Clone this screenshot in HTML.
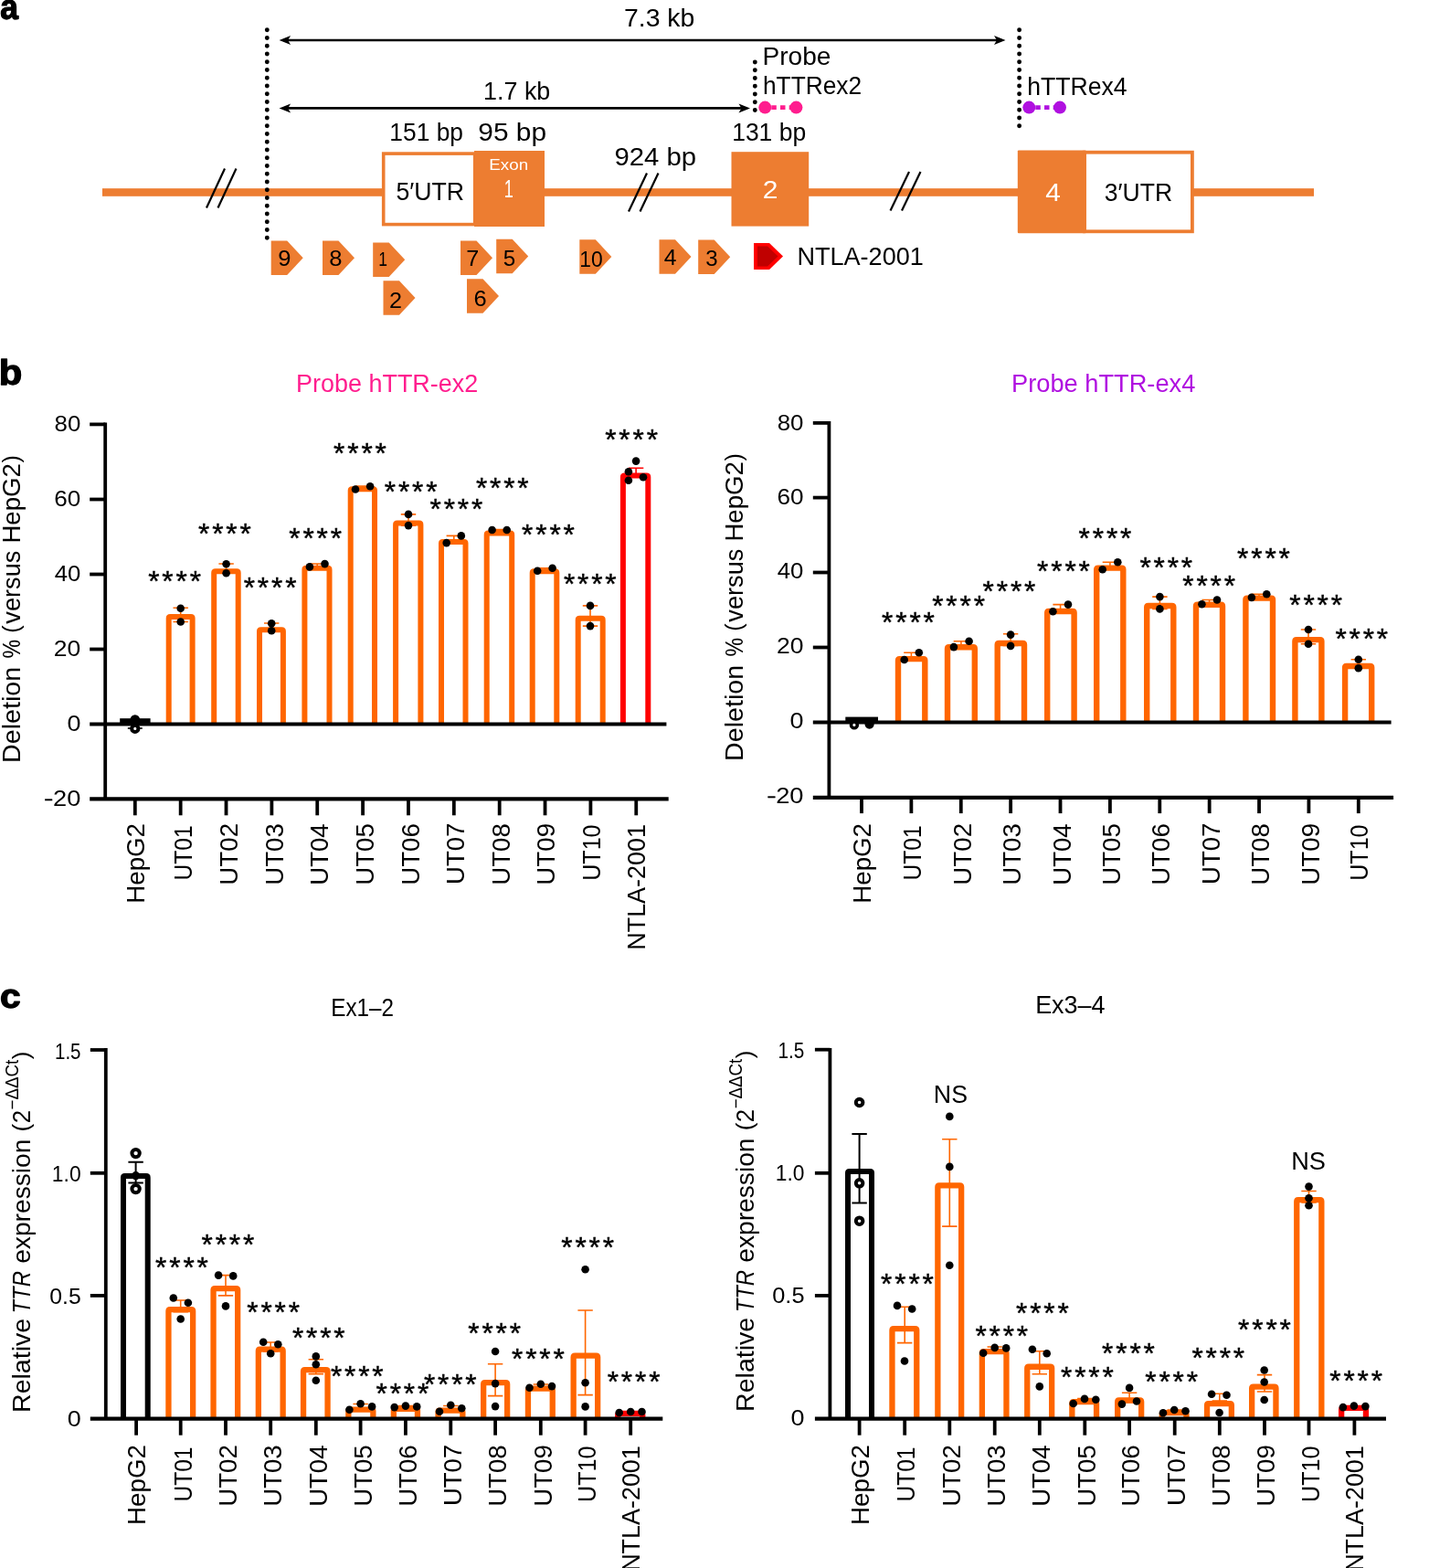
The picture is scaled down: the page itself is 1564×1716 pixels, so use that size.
<!DOCTYPE html>
<html lang="en">
<head>
<meta charset="utf-8">
<title>TTR deletion figure</title>
<style>
html,body{margin:0;padding:0;background:#fff;}
body{width:1564px;height:1716px;overflow:hidden;}
svg{display:block;}
text{white-space:pre;}
</style>
</head>
<body>
<svg width="1564" height="1716" viewBox="0 0 1564 1716" font-family='"Liberation Sans", sans-serif' role="img" aria-label="TTR gene deletion figure">
<rect width="1564" height="1716" fill="#fff"/>
<g id="panel-a">
<rect x="112" y="206.2" width="1326" height="8.6" fill="#ed7d31"/>
<rect x="419.7" y="168.1" width="100" height="77.5" fill="#fff" stroke="#ed7d31" stroke-width="3.6"/>
<rect x="519" y="165" width="77" height="83" fill="#ed7d31"/>
<rect x="800.5" y="166.2" width="84.7" height="81.4" fill="#ed7d31"/>
<rect x="1187" y="166.7" width="117.9" height="86.6" fill="#fff" stroke="#ed7d31" stroke-width="3.8"/>
<rect x="1113.8" y="164.4" width="75" height="90.8" rx="1.2" fill="#ed7d31"/>
<line x1="226" y1="227.5" x2="246" y2="184.5" stroke="#000" stroke-width="2.2"/>
<line x1="238.5" y1="227.5" x2="258.5" y2="184.5" stroke="#000" stroke-width="2.2"/>
<line x1="688" y1="231.5" x2="708" y2="189.5" stroke="#000" stroke-width="2.2"/>
<line x1="700.5" y1="231.5" x2="720.5" y2="189.5" stroke="#000" stroke-width="2.2"/>
<line x1="974.5" y1="230.5" x2="995" y2="188" stroke="#000" stroke-width="2.2"/>
<line x1="987" y1="230.5" x2="1007.5" y2="188" stroke="#000" stroke-width="2.2"/>
<line x1="292.3" y1="32.8" x2="292.3" y2="261.5" stroke="#000" stroke-width="4.9" stroke-linecap="round" stroke-dasharray="0 8.75"/>
<line x1="826.3" y1="68" x2="826.3" y2="121.5" stroke="#000" stroke-width="4.9" stroke-linecap="round" stroke-dasharray="0 8.75"/>
<line x1="1115.6" y1="32.8" x2="1115.6" y2="138.5" stroke="#000" stroke-width="4.9" stroke-linecap="round" stroke-dasharray="0 8.75"/>
<line x1="311.6" y1="44" x2="1094.5" y2="44" stroke="#000" stroke-width="2.6"/>
<path d="M305.6 44 l12.5 -5 l-3 5 l3 5 z" fill="#000"/>
<path d="M1100.5 44 l-12.5 -5 l3 5 l-3 5 z" fill="#000"/>
<line x1="311.6" y1="118.4" x2="815" y2="118.4" stroke="#000" stroke-width="2.6"/>
<path d="M305.6 118.4 l12.5 -5 l-3 5 l3 5 z" fill="#000"/>
<path d="M821 118.4 l-12.5 -5 l3 5 l-3 5 z" fill="#000"/>
<line x1="843.3" y1="117.6" x2="865.4" y2="117.6" stroke="#ff1d8e" stroke-width="4.6" stroke-dasharray="5.5 4.2" stroke-dashoffset="-1"/>
<circle cx="837.3" cy="117.6" r="7" fill="#ff1d8e"/>
<circle cx="871.4" cy="117.6" r="7" fill="#ff1d8e"/>
<line x1="1132.3" y1="117.6" x2="1154" y2="117.6" stroke="#b010e0" stroke-width="4.6" stroke-dasharray="5.5 4.2" stroke-dashoffset="-1"/>
<circle cx="1126.3" cy="117.6" r="7" fill="#b010e0"/>
<circle cx="1160" cy="117.6" r="7" fill="#b010e0"/>
<path d="M296.7 263.4 h17.5 l17.5 18.75 l-17.5 18.75 h-17.5 z" fill="#ed7d31"/>
<path d="M353 263.4 h17.5 l17.5 18.75 l-17.5 18.75 h-17.5 z" fill="#ed7d31"/>
<path d="M408.2 265.4 h17.5 l17.5 18.75 l-17.5 18.75 h-17.5 z" fill="#ed7d31"/>
<path d="M419.5 307.2 h17.5 l17.5 18.75 l-17.5 18.75 h-17.5 z" fill="#ed7d31"/>
<path d="M504 263.4 h17.5 l17.5 18.75 l-17.5 18.75 h-17.5 z" fill="#ed7d31"/>
<path d="M511 305.2 h17.5 l17.5 18.75 l-17.5 18.75 h-17.5 z" fill="#ed7d31"/>
<path d="M543.2 261.8 h17.5 l17.5 18.75 l-17.5 18.75 h-17.5 z" fill="#ed7d31"/>
<path d="M634.3 262.2 h17.5 l17.5 18.75 l-17.5 18.75 h-17.5 z" fill="#ed7d31"/>
<path d="M721.5 262.2 h17.5 l17.5 18.75 l-17.5 18.75 h-17.5 z" fill="#ed7d31"/>
<path d="M764.2 262.4 h17.5 l17.5 18.75 l-17.5 18.75 h-17.5 z" fill="#ed7d31"/>
<path d="M825 266 h17 l15 14.5 l-15 14.5 h-17 z" fill="#ff0000"/>
<path d="M829 269.5 h11 l11.5 11 l-11.5 11 h-11 z" fill="#c00000"/>
</g>
<g id="chart-b1">
<rect x="131.2" y="786.2" width="33.4" height="6" fill="#000"/>
<path d="M197.7 665.2 V680.5 M189.5 665.2 h16.4 M189.5 680.5 h16.4" fill="none" stroke="#ff6600" stroke-width="1.6"/>
<path d="M184.7 792.6 V676.6 Q184.7 675 186.3 675 H209 Q210.6 675 210.6 676.6 V792.6" fill="none" stroke="#ff6600" stroke-width="6" stroke-linejoin="round"/>
<path d="M247.6 617 V627.3 M239.4 617 h16.4 M239.4 627.3 h16.4" fill="none" stroke="#ff6600" stroke-width="1.6"/>
<path d="M234.2 792.6 V626.9 Q234.2 625.3 235.8 625.3 H259.1 Q260.7 625.3 260.7 626.9 V792.6" fill="none" stroke="#ff6600" stroke-width="6" stroke-linejoin="round"/>
<path d="M297.2 682 V690.5 M289 682 h16.4 M289 690.5 h16.4" fill="none" stroke="#ff6600" stroke-width="1.6"/>
<path d="M284 792.6 V690.8 Q284 689.2 285.6 689.2 H308.3 Q309.9 689.2 309.9 690.8 V792.6" fill="none" stroke="#ff6600" stroke-width="6" stroke-linejoin="round"/>
<path d="M347.2 617 V620.5 M339 617 h16.4 M339 620.5 h16.4" fill="none" stroke="#ff6600" stroke-width="1.6"/>
<path d="M333.4 792.6 V623.4 Q333.4 621.8 335 621.8 H358.9 Q360.5 621.8 360.5 623.4 V792.6" fill="none" stroke="#ff6600" stroke-width="6" stroke-linejoin="round"/>
<path d="M397 532 V535.5 M388.8 532 h16.4 M388.8 535.5 h16.4" fill="none" stroke="#ff6600" stroke-width="1.6"/>
<path d="M383.7 792.6 V536.8 Q383.7 535.2 385.3 535.2 H408.4 Q410 535.2 410 536.8 V792.6" fill="none" stroke="#ff6600" stroke-width="6" stroke-linejoin="round"/>
<path d="M447 562.9 V575.1 M438.8 562.9 h16.4 M438.8 575.1 h16.4" fill="none" stroke="#ff6600" stroke-width="1.6"/>
<path d="M433.1 792.6 V574.2 Q433.1 572.6 434.7 572.6 H458.8 Q460.4 572.6 460.4 574.2 V792.6" fill="none" stroke="#ff6600" stroke-width="6" stroke-linejoin="round"/>
<path d="M496.8 586.4 V594.1 M488.6 586.4 h16.4 M488.6 594.1 h16.4" fill="none" stroke="#ff6600" stroke-width="1.6"/>
<path d="M483 792.6 V594.6 Q483 593 484.6 593 H507.9 Q509.5 593 509.5 594.6 V792.6" fill="none" stroke="#ff6600" stroke-width="6" stroke-linejoin="round"/>
<path d="M546.6 579.5 V580.5 M538.4 579.5 h16.4 M538.4 580.5 h16.4" fill="none" stroke="#ff6600" stroke-width="1.6"/>
<path d="M532.7 792.6 V585.2 Q532.7 583.6 534.3 583.6 H558.6 Q560.2 583.6 560.2 585.2 V792.6" fill="none" stroke="#ff6600" stroke-width="6" stroke-linejoin="round"/>
<path d="M596.4 621.7 V624.8 M588.2 621.7 h16.4 M588.2 624.8 h16.4" fill="none" stroke="#ff6600" stroke-width="1.6"/>
<path d="M582.7 792.6 V626.9 Q582.7 625.3 584.3 625.3 H607.7 Q609.3 625.3 609.3 626.9 V792.6" fill="none" stroke="#ff6600" stroke-width="6" stroke-linejoin="round"/>
<path d="M646 662.9 V685.1 M637.8 662.9 h16.4 M637.8 685.1 h16.4" fill="none" stroke="#ff6600" stroke-width="1.6"/>
<path d="M632.7 792.6 V678.4 Q632.7 676.8 634.3 676.8 H658.1 Q659.7 676.8 659.7 678.4 V792.6" fill="none" stroke="#ff6600" stroke-width="6" stroke-linejoin="round"/>
<path d="M696.1 512.2 V522 M687.9 512.2 h16.4 M687.9 522 h16.4" fill="none" stroke="#ff0000" stroke-width="1.6"/>
<path d="M681.9 792.6 V522 Q681.9 520.4 683.5 520.4 H707.7 Q709.3 520.4 709.3 522 V792.6" fill="none" stroke="#ff0000" stroke-width="6" stroke-linejoin="round"/>
<path d="M115.2 462.6 V874.3" stroke="#000" stroke-width="3.8" fill="none"/>
<path d="M98.2 874.3 H731.7" stroke="#000" stroke-width="4.2" fill="none"/>
<path d="M98.2 792.6 H729.4" stroke="#000" stroke-width="4" fill="none"/>
<path d="M98.2 464.4 H115.2" stroke="#000" stroke-width="3.8" fill="none"/>
<path d="M98.2 546.5 H115.2" stroke="#000" stroke-width="3.8" fill="none"/>
<path d="M98.2 628.5 H115.2" stroke="#000" stroke-width="3.8" fill="none"/>
<path d="M98.2 710.5 H115.2" stroke="#000" stroke-width="3.8" fill="none"/>
<path d="M147.8 874.3 V892.3" stroke="#000" stroke-width="3.8" fill="none"/>
<path d="M197.66 874.3 V892.3" stroke="#000" stroke-width="3.8" fill="none"/>
<path d="M247.52 874.3 V892.3" stroke="#000" stroke-width="3.8" fill="none"/>
<path d="M297.38 874.3 V892.3" stroke="#000" stroke-width="3.8" fill="none"/>
<path d="M347.24 874.3 V892.3" stroke="#000" stroke-width="3.8" fill="none"/>
<path d="M397.1 874.3 V892.3" stroke="#000" stroke-width="3.8" fill="none"/>
<path d="M446.96 874.3 V892.3" stroke="#000" stroke-width="3.8" fill="none"/>
<path d="M496.82 874.3 V892.3" stroke="#000" stroke-width="3.8" fill="none"/>
<path d="M546.68 874.3 V892.3" stroke="#000" stroke-width="3.8" fill="none"/>
<path d="M596.54 874.3 V892.3" stroke="#000" stroke-width="3.8" fill="none"/>
<path d="M646.4 874.3 V892.3" stroke="#000" stroke-width="3.8" fill="none"/>
<path d="M696.26 874.3 V892.3" stroke="#000" stroke-width="3.8" fill="none"/>
<path d="M139.8 797 h16" stroke="#000" stroke-width="1.6" fill="none"/>
<circle cx="147.8" cy="787.6" r="5.3" fill="#000"/>
<circle cx="147.8" cy="797.4" r="3.6" fill="#fff" stroke="#000" stroke-width="4"/>
<circle cx="197.7" cy="665.7" r="4.3" fill="#000"/>
<circle cx="197.7" cy="680.5" r="4.3" fill="#000"/>
<circle cx="247.6" cy="617.3" r="4.3" fill="#000"/>
<circle cx="247.6" cy="627.3" r="4.3" fill="#000"/>
<circle cx="297.2" cy="682.3" r="4.3" fill="#000"/>
<circle cx="297.2" cy="690.2" r="4.3" fill="#000"/>
<circle cx="338.9" cy="620.4" r="4.3" fill="#000"/>
<circle cx="355.5" cy="617.1" r="4.3" fill="#000"/>
<circle cx="389" cy="535.5" r="4.3" fill="#000"/>
<circle cx="405.1" cy="532.2" r="4.3" fill="#000"/>
<circle cx="447" cy="562.9" r="4.3" fill="#000"/>
<circle cx="447" cy="575.1" r="4.3" fill="#000"/>
<circle cx="488.7" cy="594.1" r="4.3" fill="#000"/>
<circle cx="504.8" cy="586.4" r="4.3" fill="#000"/>
<circle cx="538.6" cy="580" r="4.3" fill="#000"/>
<circle cx="554.7" cy="580" r="4.3" fill="#000"/>
<circle cx="588.2" cy="624.8" r="4.3" fill="#000"/>
<circle cx="604.6" cy="621.7" r="4.3" fill="#000"/>
<circle cx="646" cy="662.9" r="4.3" fill="#000"/>
<circle cx="646" cy="685.1" r="4.3" fill="#000"/>
<circle cx="696.1" cy="504.6" r="4.3" fill="#000"/>
<circle cx="687.9" cy="516.3" r="4.3" fill="#000"/>
<circle cx="687.9" cy="525.8" r="4.3" fill="#000"/>
<circle cx="704" cy="522.2" r="4.3" fill="#000"/>
</g>
<g id="chart-b2">
<rect x="925.3" y="784.6" width="35.7" height="6" fill="#000"/>
<path d="M997.4 714.3 V719 M989.2 714.3 h16.4 M989.2 719 h16.4" fill="none" stroke="#ff6600" stroke-width="1.6"/>
<path d="M983 790.4 V722.7 Q983 721.1 984.6 721.1 H1010.7 Q1012.3 721.1 1012.3 722.7 V790.4" fill="none" stroke="#ff6600" stroke-width="6.4" stroke-linejoin="round"/>
<path d="M1051.9 701.7 V707 M1043.7 701.7 h16.4 M1043.7 707 h16.4" fill="none" stroke="#ff6600" stroke-width="1.6"/>
<path d="M1037 790.4 V709.9 Q1037 708.3 1038.6 708.3 H1065.2 Q1066.8 708.3 1066.8 709.9 V790.4" fill="none" stroke="#ff6600" stroke-width="6.4" stroke-linejoin="round"/>
<path d="M1106.1 693.8 V706.5 M1097.9 693.8 h16.4 M1097.9 706.5 h16.4" fill="none" stroke="#ff6600" stroke-width="1.6"/>
<path d="M1091.7 790.4 V705.6 Q1091.7 704 1093.3 704 H1119.4 Q1121 704 1121 705.6 V790.4" fill="none" stroke="#ff6600" stroke-width="6.4" stroke-linejoin="round"/>
<path d="M1160.6 661.6 V668 M1152.4 661.6 h16.4 M1152.4 668 h16.4" fill="none" stroke="#ff6600" stroke-width="1.6"/>
<path d="M1146.2 790.4 V670.6 Q1146.2 669 1147.8 669 H1174 Q1175.6 669 1175.6 670.6 V790.4" fill="none" stroke="#ff6600" stroke-width="6.4" stroke-linejoin="round"/>
<path d="M1214.9 615.3 V621 M1206.7 615.3 h16.4 M1206.7 621 h16.4" fill="none" stroke="#ff6600" stroke-width="1.6"/>
<path d="M1200.2 790.4 V623.2 Q1200.2 621.6 1201.8 621.6 H1227.7 Q1229.3 621.6 1229.3 623.2 V790.4" fill="none" stroke="#ff6600" stroke-width="6.4" stroke-linejoin="round"/>
<path d="M1269.4 653.1 V666.4 M1261.2 653.1 h16.4 M1261.2 666.4 h16.4" fill="none" stroke="#ff6600" stroke-width="1.6"/>
<path d="M1255.2 790.4 V664.6 Q1255.2 663 1256.8 663 H1282.7 Q1284.3 663 1284.3 664.6 V790.4" fill="none" stroke="#ff6600" stroke-width="6.4" stroke-linejoin="round"/>
<path d="M1323.6 656.5 V661 M1315.4 656.5 h16.4 M1315.4 661 h16.4" fill="none" stroke="#ff6600" stroke-width="1.6"/>
<path d="M1309 790.4 V663.4 Q1309 661.8 1310.6 661.8 H1336.4 Q1338 661.8 1338 663.4 V790.4" fill="none" stroke="#ff6600" stroke-width="6.4" stroke-linejoin="round"/>
<path d="M1378 650.3 V653.5 M1369.8 650.3 h16.4 M1369.8 653.5 h16.4" fill="none" stroke="#ff6600" stroke-width="1.6"/>
<path d="M1363.4 790.4 V656.2 Q1363.4 654.6 1365 654.6 H1391.4 Q1393 654.6 1393 656.2 V790.4" fill="none" stroke="#ff6600" stroke-width="6.4" stroke-linejoin="round"/>
<path d="M1432 689 V704.8 M1423.8 689 h16.4 M1423.8 704.8 h16.4" fill="none" stroke="#ff6600" stroke-width="1.6"/>
<path d="M1417.4 790.4 V701.7 Q1417.4 700.1 1419 700.1 H1444.8 Q1446.4 700.1 1446.4 701.7 V790.4" fill="none" stroke="#ff6600" stroke-width="6.4" stroke-linejoin="round"/>
<path d="M1486.8 721.7 V731.2 M1478.6 721.7 h16.4 M1478.6 731.2 h16.4" fill="none" stroke="#ff6600" stroke-width="1.6"/>
<path d="M1472.1 790.4 V730.6 Q1472.1 729 1473.7 729 H1499.6 Q1501.2 729 1501.2 730.6 V790.4" fill="none" stroke="#ff6600" stroke-width="6.4" stroke-linejoin="round"/>
<path d="M907.4 461 V872.9" stroke="#000" stroke-width="3.8" fill="none"/>
<path d="M889.8 872.9 H1525.1" stroke="#000" stroke-width="4.2" fill="none"/>
<path d="M889.8 790.4 H1522.6" stroke="#000" stroke-width="4" fill="none"/>
<path d="M889.8 462.9 H907.4" stroke="#000" stroke-width="3.8" fill="none"/>
<path d="M889.8 544.6 H907.4" stroke="#000" stroke-width="3.8" fill="none"/>
<path d="M889.8 626.5 H907.4" stroke="#000" stroke-width="3.8" fill="none"/>
<path d="M889.8 708.5 H907.4" stroke="#000" stroke-width="3.8" fill="none"/>
<path d="M943 872.9 V890.1" stroke="#000" stroke-width="3.8" fill="none"/>
<path d="M997.38 872.9 V890.1" stroke="#000" stroke-width="3.8" fill="none"/>
<path d="M1051.76 872.9 V890.1" stroke="#000" stroke-width="3.8" fill="none"/>
<path d="M1106.14 872.9 V890.1" stroke="#000" stroke-width="3.8" fill="none"/>
<path d="M1160.52 872.9 V890.1" stroke="#000" stroke-width="3.8" fill="none"/>
<path d="M1214.9 872.9 V890.1" stroke="#000" stroke-width="3.8" fill="none"/>
<path d="M1269.28 872.9 V890.1" stroke="#000" stroke-width="3.8" fill="none"/>
<path d="M1323.66 872.9 V890.1" stroke="#000" stroke-width="3.8" fill="none"/>
<path d="M1378.04 872.9 V890.1" stroke="#000" stroke-width="3.8" fill="none"/>
<path d="M1432.42 872.9 V890.1" stroke="#000" stroke-width="3.8" fill="none"/>
<path d="M1486.8 872.9 V890.1" stroke="#000" stroke-width="3.8" fill="none"/>
<circle cx="934.9" cy="793.4" r="3.4" fill="#fff" stroke="#000" stroke-width="3.6"/>
<circle cx="951.6" cy="792.6" r="5.1" fill="#000"/>
<circle cx="989.7" cy="722" r="4.3" fill="#000"/>
<circle cx="1005.8" cy="714.3" r="4.3" fill="#000"/>
<circle cx="1043.9" cy="708.1" r="4.3" fill="#000"/>
<circle cx="1060.6" cy="701.7" r="4.3" fill="#000"/>
<circle cx="1106.1" cy="694.6" r="4.3" fill="#000"/>
<circle cx="1106.1" cy="706.9" r="4.3" fill="#000"/>
<circle cx="1152.4" cy="669.3" r="4.3" fill="#000"/>
<circle cx="1169" cy="661.6" r="4.3" fill="#000"/>
<circle cx="1206.7" cy="623.2" r="4.3" fill="#000"/>
<circle cx="1223.3" cy="615.3" r="4.3" fill="#000"/>
<circle cx="1269.4" cy="653.1" r="4.3" fill="#000"/>
<circle cx="1269.4" cy="666.4" r="4.3" fill="#000"/>
<circle cx="1315.4" cy="661.3" r="4.3" fill="#000"/>
<circle cx="1332" cy="656.5" r="4.3" fill="#000"/>
<circle cx="1369.9" cy="653.9" r="4.3" fill="#000"/>
<circle cx="1386.3" cy="650.3" r="4.3" fill="#000"/>
<circle cx="1432" cy="689" r="4.3" fill="#000"/>
<circle cx="1432" cy="704.8" r="4.3" fill="#000"/>
<circle cx="1486.8" cy="721.7" r="4.3" fill="#000"/>
<circle cx="1486.8" cy="731.2" r="4.3" fill="#000"/>
</g>
<g id="chart-c1">
<path d="M148.6 1271.7 V1294.6 M140.4 1271.7 h16.4 M140.4 1294.6 h16.4" fill="none" stroke="#000" stroke-width="2"/>
<path d="M135 1552.7 V1288.7 Q135 1287.1 136.6 1287.1 H160.1 Q161.7 1287.1 161.7 1288.7 V1552.7" fill="none" stroke="#000" stroke-width="6" stroke-linejoin="round"/>
<path d="M197.7 1423 V1435.8 M189.5 1423 h16.4 M189.5 1435.8 h16.4" fill="none" stroke="#ff6600" stroke-width="1.6"/>
<path d="M184.45 1552.7 V1434.75 Q184.45 1433.15 186.05 1433.15 H209.55 Q211.15 1433.15 211.15 1434.75 V1552.7" fill="none" stroke="#ff6600" stroke-width="6.3" stroke-linejoin="round"/>
<path d="M247 1395.6 V1417.9 M238.8 1395.6 h16.4 M238.8 1417.9 h16.4" fill="none" stroke="#ff6600" stroke-width="1.6"/>
<path d="M233.55 1552.7 V1411.75 Q233.55 1410.15 235.15 1410.15 H258.55 Q260.15 1410.15 260.15 1411.75 V1552.7" fill="none" stroke="#ff6600" stroke-width="6.3" stroke-linejoin="round"/>
<path d="M296.2 1469 V1479 M288 1469 h16.4 M288 1479 h16.4" fill="none" stroke="#ff6600" stroke-width="1.6"/>
<path d="M282.85 1552.7 V1478.15 Q282.85 1476.55 284.45 1476.55 H308.05 Q309.65 1476.55 309.65 1478.15 V1552.7" fill="none" stroke="#ff6600" stroke-width="6.3" stroke-linejoin="round"/>
<path d="M345.8 1487.7 V1503.6 M337.6 1487.7 h16.4 M337.6 1503.6 h16.4" fill="none" stroke="#ff6600" stroke-width="1.6"/>
<path d="M332.05 1552.7 V1500.75 Q332.05 1499.15 333.65 1499.15 H356.95 Q358.55 1499.15 358.55 1500.75 V1552.7" fill="none" stroke="#ff6600" stroke-width="6.3" stroke-linejoin="round"/>
<path d="M394.6 1536.5 V1542 M386.4 1536.5 h16.4 M386.4 1542 h16.4" fill="none" stroke="#ff6600" stroke-width="1.6"/>
<path d="M381.35 1552.7 V1544.15 Q381.35 1542.55 382.95 1542.55 H406.75 Q408.35 1542.55 408.35 1544.15 V1552.7" fill="none" stroke="#ff6600" stroke-width="6.3" stroke-linejoin="round"/>
<path d="M443.9 1538.5 V1540.5 M435.7 1538.5 h16.4 M435.7 1540.5 h16.4" fill="none" stroke="#ff6600" stroke-width="1.6"/>
<path d="M430.85 1552.7 V1543.45 Q430.85 1541.85 432.45 1541.85 H455.35 Q456.95 1541.85 456.95 1543.45 V1552.7" fill="none" stroke="#ff6600" stroke-width="6.3" stroke-linejoin="round"/>
<path d="M493.3 1538.5 V1544 M485.1 1538.5 h16.4 M485.1 1544 h16.4" fill="none" stroke="#ff6600" stroke-width="1.6"/>
<path d="M479.55 1552.7 V1545.25 Q479.55 1543.65 481.15 1543.65 H504.75 Q506.35 1543.65 506.35 1545.25 V1552.7" fill="none" stroke="#ff6600" stroke-width="6.3" stroke-linejoin="round"/>
<path d="M542.1 1492.8 V1527.6 M533.9 1492.8 h16.4 M533.9 1527.6 h16.4" fill="none" stroke="#ff6600" stroke-width="1.6"/>
<path d="M529.15 1552.7 V1514.75 Q529.15 1513.15 530.75 1513.15 H553.55 Q555.15 1513.15 555.15 1514.75 V1552.7" fill="none" stroke="#ff6600" stroke-width="6.3" stroke-linejoin="round"/>
<path d="M591.8 1515 V1518.5 M583.6 1515 h16.4 M583.6 1518.5 h16.4" fill="none" stroke="#ff6600" stroke-width="1.6"/>
<path d="M577.95 1552.7 V1521.15 Q577.95 1519.55 579.55 1519.55 H603.15 Q604.75 1519.55 604.75 1521.15 V1552.7" fill="none" stroke="#ff6600" stroke-width="6.3" stroke-linejoin="round"/>
<path d="M640.6 1434 V1526.6 M632.4 1434 h16.4 M632.4 1526.6 h16.4" fill="none" stroke="#ff6600" stroke-width="1.6"/>
<path d="M627.65 1552.7 V1485.15 Q627.65 1483.55 629.25 1483.55 H652.55 Q654.15 1483.55 654.15 1485.15 V1552.7" fill="none" stroke="#ff6600" stroke-width="6.3" stroke-linejoin="round"/>
<path d="M690.2 1545 V1546 M682 1545 h16.4 M682 1546 h16.4" fill="none" stroke="#ff0000" stroke-width="1.6"/>
<path d="M676.25 1552.7 V1548.55 Q676.25 1546.95 677.85 1546.95 H701.65 Q703.25 1546.95 703.25 1548.55 V1552.7" fill="none" stroke="#ff0000" stroke-width="6.3" stroke-linejoin="round"/>
<path d="M115.8 1147 V1552.7" stroke="#000" stroke-width="3.8" fill="none"/>
<path d="M98.8 1552.7 H725.3" stroke="#000" stroke-width="4.2" fill="none"/>
<path d="M98.8 1149 H115.8" stroke="#000" stroke-width="3.8" fill="none"/>
<path d="M98.8 1283.8 H115.8" stroke="#000" stroke-width="3.8" fill="none"/>
<path d="M98.8 1417.9 H115.8" stroke="#000" stroke-width="3.8" fill="none"/>
<path d="M149.1 1552.7 V1570.7" stroke="#000" stroke-width="3.8" fill="none"/>
<path d="M197.7 1552.7 V1570.7" stroke="#000" stroke-width="3.8" fill="none"/>
<path d="M247 1552.7 V1570.7" stroke="#000" stroke-width="3.8" fill="none"/>
<path d="M296.2 1552.7 V1570.7" stroke="#000" stroke-width="3.8" fill="none"/>
<path d="M345.8 1552.7 V1570.7" stroke="#000" stroke-width="3.8" fill="none"/>
<path d="M394.6 1552.7 V1570.7" stroke="#000" stroke-width="3.8" fill="none"/>
<path d="M443.9 1552.7 V1570.7" stroke="#000" stroke-width="3.8" fill="none"/>
<path d="M493.3 1552.7 V1570.7" stroke="#000" stroke-width="3.8" fill="none"/>
<path d="M542.1 1552.7 V1570.7" stroke="#000" stroke-width="3.8" fill="none"/>
<path d="M591.8 1552.7 V1570.7" stroke="#000" stroke-width="3.8" fill="none"/>
<path d="M640.6 1552.7 V1570.7" stroke="#000" stroke-width="3.8" fill="none"/>
<path d="M690.2 1552.7 V1570.7" stroke="#000" stroke-width="3.8" fill="none"/>
<circle cx="148.6" cy="1262.1" r="4.2" fill="#fff" stroke="#000" stroke-width="4"/>
<circle cx="148.6" cy="1301.1" r="4.2" fill="#fff" stroke="#000" stroke-width="4"/>
<circle cx="148.6" cy="1286.7" r="4.6" fill="#000"/>
<circle cx="189.8" cy="1420.5" r="4.3" fill="#000"/>
<circle cx="205.9" cy="1425.8" r="4.3" fill="#000"/>
<circle cx="197.7" cy="1443.5" r="4.3" fill="#000"/>
<circle cx="239.1" cy="1395.6" r="4.3" fill="#000"/>
<circle cx="255.2" cy="1396.4" r="4.3" fill="#000"/>
<circle cx="247" cy="1429.4" r="4.3" fill="#000"/>
<circle cx="288.2" cy="1468.8" r="4.3" fill="#000"/>
<circle cx="304.3" cy="1471.3" r="4.3" fill="#000"/>
<circle cx="296.2" cy="1481.3" r="4.3" fill="#000"/>
<circle cx="345.8" cy="1484.4" r="4.3" fill="#000"/>
<circle cx="345.8" cy="1493.3" r="4.3" fill="#000"/>
<circle cx="345.8" cy="1510.7" r="4.3" fill="#000"/>
<circle cx="382.4" cy="1542.7" r="4.3" fill="#000"/>
<circle cx="394.6" cy="1536.3" r="4.3" fill="#000"/>
<circle cx="407.1" cy="1539.4" r="4.3" fill="#000"/>
<circle cx="431.7" cy="1540.1" r="4.3" fill="#000"/>
<circle cx="443.9" cy="1538.6" r="4.3" fill="#000"/>
<circle cx="456.2" cy="1539.4" r="4.3" fill="#000"/>
<circle cx="481" cy="1544.7" r="4.3" fill="#000"/>
<circle cx="493.3" cy="1537.8" r="4.3" fill="#000"/>
<circle cx="505.3" cy="1541.2" r="4.3" fill="#000"/>
<circle cx="542.1" cy="1479" r="4.3" fill="#000"/>
<circle cx="542.1" cy="1514.1" r="4.3" fill="#000"/>
<circle cx="542.1" cy="1539.1" r="4.3" fill="#000"/>
<circle cx="579.5" cy="1518.7" r="4.3" fill="#000"/>
<circle cx="591.8" cy="1514.8" r="4.3" fill="#000"/>
<circle cx="604" cy="1517.1" r="4.3" fill="#000"/>
<circle cx="640.6" cy="1389.2" r="4.3" fill="#000"/>
<circle cx="640.6" cy="1513.3" r="4.3" fill="#000"/>
<circle cx="640.6" cy="1539.4" r="4.3" fill="#000"/>
<circle cx="677.7" cy="1546" r="4.3" fill="#000"/>
<circle cx="690.2" cy="1545" r="4.3" fill="#000"/>
<circle cx="702.5" cy="1545" r="4.3" fill="#000"/>
</g>
<g id="chart-c2">
<path d="M940.6 1241.1 V1316.5 M932.4 1241.1 h16.4 M932.4 1316.5 h16.4" fill="none" stroke="#000" stroke-width="2"/>
<path d="M928 1552.7 V1283.6 Q928 1282 929.6 1282 H952.4 Q954 1282 954 1283.6 V1552.7" fill="none" stroke="#000" stroke-width="6" stroke-linejoin="round"/>
<path d="M990.2 1430.2 V1469.6 M982 1430.2 h16.4 M982 1469.6 h16.4" fill="none" stroke="#ff6600" stroke-width="1.6"/>
<path d="M976.45 1552.7 V1455.65 Q976.45 1454.05 978.05 1454.05 H1001.65 Q1003.25 1454.05 1003.25 1455.65 V1552.7" fill="none" stroke="#ff6600" stroke-width="6.3" stroke-linejoin="round"/>
<path d="M1039.3 1246.7 V1342.1 M1031.1 1246.7 h16.4 M1031.1 1342.1 h16.4" fill="none" stroke="#ff6600" stroke-width="1.6"/>
<path d="M1026.35 1552.7 V1299.05 Q1026.35 1297.45 1027.95 1297.45 H1050.55 Q1052.15 1297.45 1052.15 1299.05 V1552.7" fill="none" stroke="#ff6600" stroke-width="6.3" stroke-linejoin="round"/>
<path d="M1088.7 1474 V1479 M1080.5 1474 h16.4 M1080.5 1479 h16.4" fill="none" stroke="#ff6600" stroke-width="1.6"/>
<path d="M1074.85 1552.7 V1480.75 Q1074.85 1479.15 1076.45 1479.15 H1099.85 Q1101.45 1479.15 1101.45 1480.75 V1552.7" fill="none" stroke="#ff6600" stroke-width="6.3" stroke-linejoin="round"/>
<path d="M1137.8 1478.8 V1503.8 M1129.6 1478.8 h16.4 M1129.6 1503.8 h16.4" fill="none" stroke="#ff6600" stroke-width="1.6"/>
<path d="M1124.25 1552.7 V1497.35 Q1124.25 1495.75 1125.85 1495.75 H1149.55 Q1151.15 1495.75 1151.15 1497.35 V1552.7" fill="none" stroke="#ff6600" stroke-width="6.3" stroke-linejoin="round"/>
<path d="M1187.3 1530.5 V1534 M1179.1 1530.5 h16.4 M1179.1 1534 h16.4" fill="none" stroke="#ff6600" stroke-width="1.6"/>
<path d="M1173.35 1552.7 V1535.75 Q1173.35 1534.15 1174.95 1534.15 H1198.45 Q1200.05 1534.15 1200.05 1535.75 V1552.7" fill="none" stroke="#ff6600" stroke-width="6.3" stroke-linejoin="round"/>
<path d="M1236.1 1524.3 V1535 M1227.9 1524.3 h16.4 M1227.9 1535 h16.4" fill="none" stroke="#ff6600" stroke-width="1.6"/>
<path d="M1223.15 1552.7 V1533.95 Q1223.15 1532.35 1224.75 1532.35 H1247.55 Q1249.15 1532.35 1249.15 1533.95 V1552.7" fill="none" stroke="#ff6600" stroke-width="6.3" stroke-linejoin="round"/>
<path d="M1285.7 1543 V1546 M1277.5 1543 h16.4 M1277.5 1546 h16.4" fill="none" stroke="#ff6600" stroke-width="1.6"/>
<path d="M1271.75 1552.7 V1547.75 Q1271.75 1546.15 1273.35 1546.15 H1296.85 Q1298.45 1546.15 1298.45 1547.75 V1552.7" fill="none" stroke="#ff6600" stroke-width="6.3" stroke-linejoin="round"/>
<path d="M1334.8 1525.3 V1533 M1326.6 1525.3 h16.4 M1326.6 1533 h16.4" fill="none" stroke="#ff6600" stroke-width="1.6"/>
<path d="M1321.05 1552.7 V1537.75 Q1321.05 1536.15 1322.65 1536.15 H1346.25 Q1347.85 1536.15 1347.85 1537.75 V1552.7" fill="none" stroke="#ff6600" stroke-width="6.3" stroke-linejoin="round"/>
<path d="M1384 1504.6 V1523 M1375.8 1504.6 h16.4 M1375.8 1523 h16.4" fill="none" stroke="#ff6600" stroke-width="1.6"/>
<path d="M1370.15 1552.7 V1519.15 Q1370.15 1517.55 1371.75 1517.55 H1394.85 Q1396.45 1517.55 1396.45 1519.15 V1552.7" fill="none" stroke="#ff6600" stroke-width="6.3" stroke-linejoin="round"/>
<path d="M1432.5 1303.5 V1316 M1424.3 1303.5 h16.4 M1424.3 1316 h16.4" fill="none" stroke="#ff6600" stroke-width="1.6"/>
<path d="M1419.25 1552.7 V1314.65 Q1419.25 1313.05 1420.85 1313.05 H1444.75 Q1446.35 1313.05 1446.35 1314.65 V1552.7" fill="none" stroke="#ff6600" stroke-width="6.3" stroke-linejoin="round"/>
<path d="M1482.4 1539 V1540 M1474.2 1539 h16.4 M1474.2 1540 h16.4" fill="none" stroke="#ff0000" stroke-width="1.6"/>
<path d="M1468.15 1552.7 V1542.55 Q1468.15 1540.95 1469.75 1540.95 H1493.35 Q1494.95 1540.95 1494.95 1542.55 V1552.7" fill="none" stroke="#ff0000" stroke-width="6.3" stroke-linejoin="round"/>
<path d="M908.4 1147 V1552.7" stroke="#000" stroke-width="3.8" fill="none"/>
<path d="M891.9 1552.7 H1517" stroke="#000" stroke-width="4.2" fill="none"/>
<path d="M891.9 1148.7 H908.4" stroke="#000" stroke-width="3.8" fill="none"/>
<path d="M891.9 1283.8 H908.4" stroke="#000" stroke-width="3.8" fill="none"/>
<path d="M891.9 1417.9 H908.4" stroke="#000" stroke-width="3.8" fill="none"/>
<path d="M940.6 1552.7 V1570.7" stroke="#000" stroke-width="3.8" fill="none"/>
<path d="M990.2 1552.7 V1570.7" stroke="#000" stroke-width="3.8" fill="none"/>
<path d="M1039.3 1552.7 V1570.7" stroke="#000" stroke-width="3.8" fill="none"/>
<path d="M1088.7 1552.7 V1570.7" stroke="#000" stroke-width="3.8" fill="none"/>
<path d="M1137.8 1552.7 V1570.7" stroke="#000" stroke-width="3.8" fill="none"/>
<path d="M1187.3 1552.7 V1570.7" stroke="#000" stroke-width="3.8" fill="none"/>
<path d="M1236.1 1552.7 V1570.7" stroke="#000" stroke-width="3.8" fill="none"/>
<path d="M1285.7 1552.7 V1570.7" stroke="#000" stroke-width="3.8" fill="none"/>
<path d="M1334.8 1552.7 V1570.7" stroke="#000" stroke-width="3.8" fill="none"/>
<path d="M1384 1552.7 V1570.7" stroke="#000" stroke-width="3.8" fill="none"/>
<path d="M1432.5 1552.7 V1570.7" stroke="#000" stroke-width="3.8" fill="none"/>
<path d="M1482.4 1552.7 V1570.7" stroke="#000" stroke-width="3.8" fill="none"/>
<circle cx="940.6" cy="1206.5" r="3.8" fill="#fff" stroke="#000" stroke-width="4"/>
<circle cx="940.6" cy="1294.8" r="3.8" fill="#fff" stroke="#000" stroke-width="4"/>
<circle cx="940.6" cy="1336.2" r="3.8" fill="#fff" stroke="#000" stroke-width="4"/>
<circle cx="982" cy="1428.9" r="4.3" fill="#000"/>
<circle cx="998.2" cy="1432.5" r="4.3" fill="#000"/>
<circle cx="990" cy="1489.5" r="4.3" fill="#000"/>
<circle cx="1039.3" cy="1221.9" r="4.3" fill="#000"/>
<circle cx="1039.3" cy="1276.9" r="4.3" fill="#000"/>
<circle cx="1039.3" cy="1384.8" r="4.3" fill="#000"/>
<circle cx="1076.2" cy="1480.8" r="4.3" fill="#000"/>
<circle cx="1088.7" cy="1474.9" r="4.3" fill="#000"/>
<circle cx="1101.2" cy="1475.4" r="4.3" fill="#000"/>
<circle cx="1129.9" cy="1476.7" r="4.3" fill="#000"/>
<circle cx="1145.7" cy="1481.3" r="4.3" fill="#000"/>
<circle cx="1137.8" cy="1517.4" r="4.3" fill="#000"/>
<circle cx="1174.7" cy="1536" r="4.3" fill="#000"/>
<circle cx="1187" cy="1530.9" r="4.3" fill="#000"/>
<circle cx="1199.3" cy="1531.7" r="4.3" fill="#000"/>
<circle cx="1236.1" cy="1518.9" r="4.3" fill="#000"/>
<circle cx="1227.9" cy="1536.6" r="4.3" fill="#000"/>
<circle cx="1244" cy="1533.5" r="4.3" fill="#000"/>
<circle cx="1273" cy="1546.3" r="4.3" fill="#000"/>
<circle cx="1285.2" cy="1543" r="4.3" fill="#000"/>
<circle cx="1297.5" cy="1544.2" r="4.3" fill="#000"/>
<circle cx="1326.1" cy="1525.8" r="4.3" fill="#000"/>
<circle cx="1342.5" cy="1526.8" r="4.3" fill="#000"/>
<circle cx="1334.6" cy="1546" r="4.3" fill="#000"/>
<circle cx="1383.7" cy="1499.5" r="4.3" fill="#000"/>
<circle cx="1383.7" cy="1512.5" r="4.3" fill="#000"/>
<circle cx="1383.7" cy="1532" r="4.3" fill="#000"/>
<circle cx="1432.5" cy="1298.6" r="4.3" fill="#000"/>
<circle cx="1432.5" cy="1311.2" r="4.3" fill="#000"/>
<circle cx="1432.5" cy="1319.3" r="4.3" fill="#000"/>
<circle cx="1469.9" cy="1540.1" r="4.3" fill="#000"/>
<circle cx="1481.9" cy="1538.6" r="4.3" fill="#000"/>
<circle cx="1494.4" cy="1539.1" r="4.3" fill="#000"/>
</g>
<g id="labels">
<text transform="translate(682.98 28.6) scale(1.0068 1)" font-size="28.2" fill="#000">7.3 kb</text>
<text transform="translate(529.12 108.7) scale(0.9522 1)" font-size="28.2" fill="#000">1.7 kb</text>
<text transform="translate(426.36 154.2) scale(0.9344 1)" font-size="28.2" fill="#000">151 bp</text>
<text transform="translate(523.3 154.2) scale(1.0596 1)" font-size="28.2" fill="#000">95 bp</text>
<text transform="translate(672.43 181) scale(1.0392 1)" font-size="28.2" fill="#000">924 bp</text>
<text transform="translate(801.14 154.2) scale(0.9404 1)" font-size="28.2" fill="#000">131 bp</text>
<text transform="translate(834.55 71) scale(0.9962 1)" font-size="28.2" fill="#000">Probe</text>
<text transform="translate(834.92 102.8) scale(0.9338 1)" font-size="28.2" fill="#000">hTTRex2</text>
<text transform="translate(1124.2 103.6) scale(0.9442 1)" font-size="28.2" fill="#000">hTTRex4</text>
<text transform="translate(433.43 218.7) scale(0.9464 1)" font-size="28.2" fill="#000">5′UTR</text>
<text transform="translate(1208.7 220) scale(0.9429 1)" font-size="28.2" fill="#000">3′UTR</text>
<text transform="translate(535.29 186.2) scale(1.1089 1)" font-size="17" fill="#fff">Exon</text>
<text transform="translate(551.73 216) scale(0.6447 1)" font-size="28.2" fill="#fff">1</text>
<text transform="translate(834.7 217.4) scale(1.0638 1)" font-size="28.2" fill="#fff">2</text>
<text transform="translate(1144.2 220) scale(1.0569 1)" font-size="28.2" fill="#fff">4</text>
<text transform="translate(872.43 290.3) scale(0.9605 1)" font-size="28.2" fill="#000">NTLA-2001</text>
<text transform="translate(304.18 291) scale(1.1101 1)" font-size="23" fill="#000">9</text>
<text transform="translate(360.28 291) scale(1.1141 1)" font-size="23" fill="#000">8</text>
<text transform="translate(414.27 291.2) scale(0.7609 1)" font-size="23" fill="#000">1</text>
<text transform="translate(425.94 337.4) scale(1.0964 1)" font-size="23" fill="#000">2</text>
<text transform="translate(510.34 291) scale(1.0964 1)" font-size="23" fill="#000">7</text>
<text transform="translate(518.52 334.6) scale(1.1101 1)" font-size="23" fill="#000">6</text>
<text transform="translate(550.83 291) scale(1.0507 1)" font-size="23" fill="#000">5</text>
<text transform="translate(634.2 292) scale(0.9939 1)" font-size="23" fill="#000">10</text>
<text transform="translate(726.71 290.4) scale(1.0742 1)" font-size="23" fill="#000">4</text>
<text transform="translate(772.28 291) scale(1.0470 1)" font-size="23" fill="#000">3</text>
<text transform="translate(158.2 988.82) rotate(-90) scale(1.0088 1)" font-size="27.5" fill="#000">HepG2</text>
<text transform="translate(209.96 963.42) rotate(-90) scale(0.8930 1)" font-size="27.5" fill="#000">UT01</text>
<text transform="translate(260.12 968.74) rotate(-90) scale(1.0086 1)" font-size="27.5" fill="#000">UT02</text>
<text transform="translate(309.68 968.73) rotate(-90) scale(1.0042 1)" font-size="27.5" fill="#000">UT03</text>
<text transform="translate(359.04 968.72) rotate(-90) scale(1.0000 1)" font-size="27.5" fill="#000">UT04</text>
<text transform="translate(409.3 968.73) rotate(-90) scale(1.0042 1)" font-size="27.5" fill="#000">UT05</text>
<text transform="translate(458.56 968.73) rotate(-90) scale(1.0042 1)" font-size="27.5" fill="#000">UT06</text>
<text transform="translate(508.42 967.92) rotate(-90) scale(0.9992 1)" font-size="27.5" fill="#000">UT07</text>
<text transform="translate(557.68 968.73) rotate(-90) scale(1.0042 1)" font-size="27.5" fill="#000">UT08</text>
<text transform="translate(607.34 968.74) rotate(-90) scale(1.0086 1)" font-size="27.5" fill="#000">UT09</text>
<text transform="translate(657.4 963.86) rotate(-90) scale(0.9141 1)" font-size="27.5" fill="#000">UT10</text>
<text transform="translate(705.86 1039.75) rotate(-90) scale(0.9792 1)" font-size="27.5" fill="#000">NTLA-2001</text>
<text transform="translate(59.57 472.1) scale(1.1053 1)" font-size="23.4" fill="#000">80</text>
<text transform="translate(59.29 554.2) scale(1.1161 1)" font-size="23.4" fill="#000">60</text>
<text transform="translate(59.68 636.2) scale(1.1006 1)" font-size="23.4" fill="#000">40</text>
<text transform="translate(58.87 717.9) scale(1.1328 1)" font-size="23.4" fill="#000">20</text>
<text transform="translate(73.39 800) scale(1.1512 1)" font-size="23.4" fill="#000">0</text>
<text transform="translate(48.56 881.8) scale(0.8000 1)" font-size="20" fill="#000" stroke="#000" stroke-width="0.5">−</text>
<text transform="translate(58.04 881.6) scale(1.1661 1)" font-size="23.4" fill="#000">20</text>
<text transform="translate(22.4 834.89) rotate(-90) scale(1.0087 1)" font-size="28.4" fill="#000">Deletion</text>
<text transform="translate(22.4 720.49) rotate(-90) scale(0.8145 1)" font-size="28.4" fill="#000">%</text>
<text transform="translate(21 692.81) rotate(-90) scale(0.9540 1)" font-size="26.4" fill="#000">(</text>
<text transform="translate(22.4 682.7) rotate(-90) scale(0.9590 1)" font-size="28.4" fill="#000">versus</text>
<text transform="translate(22.4 594.61) rotate(-90) scale(0.9722 1)" font-size="28.4" fill="#000">HepG2</text>
<text transform="translate(21 506.4) rotate(-90) scale(0.9470 1)" font-size="26.4" fill="#000">)</text>
<text transform="translate(324.04 428.6) scale(0.9557 1)" font-size="28.2" fill="#ff1d8e">Probe hTTR-ex2</text>
<text x="162.18" y="647.07" letter-spacing="2.87" stroke="#000" stroke-width="0.45" font-size="31.6" fill="#000">****</text>
<text x="216.98" y="594.67" letter-spacing="2.87" stroke="#000" stroke-width="0.45" font-size="31.6" fill="#000">****</text>
<text x="266.68" y="653.97" letter-spacing="2.87" stroke="#000" stroke-width="0.45" font-size="31.6" fill="#000">****</text>
<text x="316.28" y="599.77" letter-spacing="2.87" stroke="#000" stroke-width="0.45" font-size="31.6" fill="#000">****</text>
<text x="365.08" y="507.17" letter-spacing="2.87" stroke="#000" stroke-width="0.45" font-size="31.6" fill="#000">****</text>
<text x="420.78" y="549.37" letter-spacing="2.87" stroke="#000" stroke-width="0.45" font-size="31.6" fill="#000">****</text>
<text x="470.48" y="567.77" letter-spacing="2.87" stroke="#000" stroke-width="0.45" font-size="31.6" fill="#000">****</text>
<text x="520.88" y="544.77" letter-spacing="2.87" stroke="#000" stroke-width="0.45" font-size="31.6" fill="#000">****</text>
<text x="571.08" y="595.97" letter-spacing="2.87" stroke="#000" stroke-width="0.45" font-size="31.6" fill="#000">****</text>
<text x="616.88" y="650.17" letter-spacing="2.87" stroke="#000" stroke-width="0.45" font-size="31.6" fill="#000">****</text>
<text x="662.18" y="492.37" letter-spacing="2.87" stroke="#000" stroke-width="0.45" font-size="31.6" fill="#000">****</text>
<text transform="translate(953.4 988.82) rotate(-90) scale(1.0088 1)" font-size="27.5" fill="#000">HepG2</text>
<text transform="translate(1008.28 963.42) rotate(-90) scale(0.8930 1)" font-size="27.5" fill="#000">UT01</text>
<text transform="translate(1062.86 968.74) rotate(-90) scale(1.0086 1)" font-size="27.5" fill="#000">UT02</text>
<text transform="translate(1117.24 968.73) rotate(-90) scale(1.0042 1)" font-size="27.5" fill="#000">UT03</text>
<text transform="translate(1171.62 968.72) rotate(-90) scale(1.0000 1)" font-size="27.5" fill="#000">UT04</text>
<text transform="translate(1226 968.73) rotate(-90) scale(1.0042 1)" font-size="27.5" fill="#000">UT05</text>
<text transform="translate(1280.38 968.73) rotate(-90) scale(1.0042 1)" font-size="27.5" fill="#000">UT06</text>
<text transform="translate(1334.76 967.92) rotate(-90) scale(0.9992 1)" font-size="27.5" fill="#000">UT07</text>
<text transform="translate(1389.14 968.73) rotate(-90) scale(1.0042 1)" font-size="27.5" fill="#000">UT08</text>
<text transform="translate(1443.52 968.74) rotate(-90) scale(1.0086 1)" font-size="27.5" fill="#000">UT09</text>
<text transform="translate(1497.4 963.86) rotate(-90) scale(0.9141 1)" font-size="27.5" fill="#000">UT10</text>
<text transform="translate(850.67 470.7) scale(1.1053 1)" font-size="23.4" fill="#000">80</text>
<text transform="translate(850.39 552.2) scale(1.1161 1)" font-size="23.4" fill="#000">60</text>
<text transform="translate(850.78 633.4) scale(1.1006 1)" font-size="23.4" fill="#000">40</text>
<text transform="translate(849.97 715.3) scale(1.1328 1)" font-size="23.4" fill="#000">20</text>
<text transform="translate(864.49 796.7) scale(1.1512 1)" font-size="23.4" fill="#000">0</text>
<text transform="translate(839.66 878.8) scale(0.8000 1)" font-size="20" fill="#000" stroke="#000" stroke-width="0.5">−</text>
<text transform="translate(849.14 878.6) scale(1.1661 1)" font-size="23.4" fill="#000">20</text>
<text transform="translate(813.1 832.89) rotate(-90) scale(1.0087 1)" font-size="28.4" fill="#000">Deletion</text>
<text transform="translate(813.1 718.49) rotate(-90) scale(0.8145 1)" font-size="28.4" fill="#000">%</text>
<text transform="translate(811.7 690.81) rotate(-90) scale(0.9540 1)" font-size="26.4" fill="#000">(</text>
<text transform="translate(813.1 680.7) rotate(-90) scale(0.9590 1)" font-size="28.4" fill="#000">versus</text>
<text transform="translate(813.1 592.61) rotate(-90) scale(0.9722 1)" font-size="28.4" fill="#000">HepG2</text>
<text transform="translate(811.7 504.4) rotate(-90) scale(0.9470 1)" font-size="26.4" fill="#000">)</text>
<text transform="translate(1107.02 428.6) scale(0.9662 1)" font-size="28.2" fill="#b010e0">Probe hTTR-ex4</text>
<text x="965.08" y="692.37" letter-spacing="2.87" stroke="#000" stroke-width="0.45" font-size="31.6" fill="#000">****</text>
<text x="1020.18" y="673.97" letter-spacing="2.87" stroke="#000" stroke-width="0.45" font-size="31.6" fill="#000">****</text>
<text x="1075.58" y="658.07" letter-spacing="2.87" stroke="#000" stroke-width="0.45" font-size="31.6" fill="#000">****</text>
<text x="1135.08" y="635.57" letter-spacing="2.87" stroke="#000" stroke-width="0.45" font-size="31.6" fill="#000">****</text>
<text x="1180.58" y="599.77" letter-spacing="2.87" stroke="#000" stroke-width="0.45" font-size="31.6" fill="#000">****</text>
<text x="1247.38" y="631.77" letter-spacing="2.87" stroke="#000" stroke-width="0.45" font-size="31.6" fill="#000">****</text>
<text x="1294.28" y="651.67" letter-spacing="2.87" stroke="#000" stroke-width="0.45" font-size="31.6" fill="#000">****</text>
<text x="1354.08" y="622.27" letter-spacing="2.87" stroke="#000" stroke-width="0.45" font-size="31.6" fill="#000">****</text>
<text x="1411.28" y="672.67" letter-spacing="2.87" stroke="#000" stroke-width="0.45" font-size="31.6" fill="#000">****</text>
<text x="1461.38" y="710.27" letter-spacing="2.87" stroke="#000" stroke-width="0.45" font-size="31.6" fill="#000">****</text>
<text transform="translate(158.7 1668.92) rotate(-90) scale(1.0088 1)" font-size="27.5" fill="#000">HepG2</text>
<text transform="translate(209.6 1643.52) rotate(-90) scale(0.8930 1)" font-size="27.5" fill="#000">UT01</text>
<text transform="translate(258.9 1648.84) rotate(-90) scale(1.0086 1)" font-size="27.5" fill="#000">UT02</text>
<text transform="translate(308.1 1648.83) rotate(-90) scale(1.0042 1)" font-size="27.5" fill="#000">UT03</text>
<text transform="translate(357.7 1648.82) rotate(-90) scale(1.0000 1)" font-size="27.5" fill="#000">UT04</text>
<text transform="translate(406.5 1648.83) rotate(-90) scale(1.0042 1)" font-size="27.5" fill="#000">UT05</text>
<text transform="translate(455.8 1648.83) rotate(-90) scale(1.0042 1)" font-size="27.5" fill="#000">UT06</text>
<text transform="translate(505.2 1648.02) rotate(-90) scale(0.9992 1)" font-size="27.5" fill="#000">UT07</text>
<text transform="translate(554 1648.83) rotate(-90) scale(1.0042 1)" font-size="27.5" fill="#000">UT08</text>
<text transform="translate(603.7 1648.84) rotate(-90) scale(1.0086 1)" font-size="27.5" fill="#000">UT09</text>
<text transform="translate(651.6 1643.96) rotate(-90) scale(0.9141 1)" font-size="27.5" fill="#000">UT10</text>
<text transform="translate(700.4 1719.85) rotate(-90) scale(0.9792 1)" font-size="27.5" fill="#000">NTLA-2001</text>
<text transform="translate(59.96 1158.8) scale(0.8787 1)" font-size="23.4" fill="#000">1.5</text>
<text transform="translate(56.8 1292.8) scale(0.9785 1)" font-size="23.4" fill="#000">1.0</text>
<text transform="translate(54.26 1426.8) scale(1.0587 1)" font-size="23.4" fill="#000">0.5</text>
<text transform="translate(73.79 1560.6) scale(1.1512 1)" font-size="23.4" fill="#000">0</text>
<text transform="translate(33.2 1545.98) rotate(-90) scale(1.0050 1)" font-size="28.4" fill="#000">Relative</text>
<text transform="translate(33.2 1437.4) rotate(-90) scale(0.8374 1)" font-size="28.4" fill="#000" font-style="italic">TTR</text>
<text transform="translate(33.2 1382.83) rotate(-90) scale(0.9925 1)" font-size="28.4" fill="#000">expression</text>
<text transform="translate(31.8 1238.46) rotate(-90) scale(0.9820 1)" font-size="26.4" fill="#000">(</text>
<text transform="translate(33.2 1229.28) rotate(-90) scale(0.9032 1)" font-size="28.4" fill="#000">2</text>
<text transform="translate(20.4 1214.45) rotate(-90) scale(0.9559 1)" font-size="19.6" fill="#000">−ΔΔCt</text>
<text transform="translate(31.8 1159.3) rotate(-90) scale(0.9740 1)" font-size="26.4" fill="#000">)</text>
<text transform="translate(362.26 1112) scale(0.8599 1)" font-size="28.2" fill="#000">Ex1–2</text>
<text x="170.08" y="1398.07" letter-spacing="2.87" stroke="#000" stroke-width="0.45" font-size="31.6" fill="#000">****</text>
<text x="220.48" y="1373.17" letter-spacing="2.87" stroke="#000" stroke-width="0.45" font-size="31.6" fill="#000">****</text>
<text x="270.28" y="1446.57" letter-spacing="2.87" stroke="#000" stroke-width="0.45" font-size="31.6" fill="#000">****</text>
<text x="319.88" y="1475.27" letter-spacing="2.87" stroke="#000" stroke-width="0.45" font-size="31.6" fill="#000">****</text>
<text x="361.88" y="1517.47" letter-spacing="2.87" stroke="#000" stroke-width="0.45" font-size="31.6" fill="#000">****</text>
<text x="411.48" y="1536.17" letter-spacing="2.87" stroke="#000" stroke-width="0.45" font-size="31.6" fill="#000">****</text>
<text x="463.88" y="1525.87" letter-spacing="2.87" stroke="#000" stroke-width="0.45" font-size="31.6" fill="#000">****</text>
<text x="512.28" y="1470.17" letter-spacing="2.87" stroke="#000" stroke-width="0.45" font-size="31.6" fill="#000">****</text>
<text x="559.98" y="1497.77" letter-spacing="2.87" stroke="#000" stroke-width="0.45" font-size="31.6" fill="#000">****</text>
<text x="614.28" y="1375.67" letter-spacing="2.87" stroke="#000" stroke-width="0.45" font-size="31.6" fill="#000">****</text>
<text x="664.68" y="1523.37" letter-spacing="2.87" stroke="#000" stroke-width="0.45" font-size="31.6" fill="#000">****</text>
<text transform="translate(950.8 1668.92) rotate(-90) scale(1.0088 1)" font-size="27.5" fill="#000">HepG2</text>
<text transform="translate(1001.4 1643.52) rotate(-90) scale(0.8930 1)" font-size="27.5" fill="#000">UT01</text>
<text transform="translate(1050.5 1648.84) rotate(-90) scale(1.0086 1)" font-size="27.5" fill="#000">UT02</text>
<text transform="translate(1099.9 1648.83) rotate(-90) scale(1.0042 1)" font-size="27.5" fill="#000">UT03</text>
<text transform="translate(1149 1648.82) rotate(-90) scale(1.0000 1)" font-size="27.5" fill="#000">UT04</text>
<text transform="translate(1198.5 1648.83) rotate(-90) scale(1.0042 1)" font-size="27.5" fill="#000">UT05</text>
<text transform="translate(1247.3 1648.83) rotate(-90) scale(1.0042 1)" font-size="27.5" fill="#000">UT06</text>
<text transform="translate(1296.9 1648.02) rotate(-90) scale(0.9992 1)" font-size="27.5" fill="#000">UT07</text>
<text transform="translate(1346 1648.83) rotate(-90) scale(1.0042 1)" font-size="27.5" fill="#000">UT08</text>
<text transform="translate(1395.2 1648.84) rotate(-90) scale(1.0086 1)" font-size="27.5" fill="#000">UT09</text>
<text transform="translate(1443.5 1643.96) rotate(-90) scale(0.9141 1)" font-size="27.5" fill="#000">UT10</text>
<text transform="translate(1492.4 1719.85) rotate(-90) scale(0.9792 1)" font-size="27.5" fill="#000">NTLA-2001</text>
<text transform="translate(851.55 1157.8) scale(0.8853 1)" font-size="23.4" fill="#000">1.5</text>
<text transform="translate(848.81 1291.8) scale(0.9719 1)" font-size="23.4" fill="#000">1.0</text>
<text transform="translate(845.24 1425.6) scale(1.0845 1)" font-size="23.4" fill="#000">0.5</text>
<text transform="translate(865.59 1559.5) scale(1.1512 1)" font-size="23.4" fill="#000">0</text>
<text transform="translate(824.9 1544.88) rotate(-90) scale(1.0050 1)" font-size="28.4" fill="#000">Relative</text>
<text transform="translate(824.9 1436.3) rotate(-90) scale(0.8374 1)" font-size="28.4" fill="#000" font-style="italic">TTR</text>
<text transform="translate(824.9 1381.73) rotate(-90) scale(0.9925 1)" font-size="28.4" fill="#000">expression</text>
<text transform="translate(823.5 1237.36) rotate(-90) scale(0.9820 1)" font-size="26.4" fill="#000">(</text>
<text transform="translate(824.9 1228.18) rotate(-90) scale(0.9032 1)" font-size="28.4" fill="#000">2</text>
<text transform="translate(812.1 1213.35) rotate(-90) scale(0.9559 1)" font-size="19.6" fill="#000">−ΔΔCt</text>
<text transform="translate(823.5 1158.2) rotate(-90) scale(0.9740 1)" font-size="26.4" fill="#000">)</text>
<text transform="translate(1133.14 1108.5) scale(0.9563 1)" font-size="28.2" fill="#000">Ex3–4</text>
<text transform="translate(1021.86 1207) scale(0.9477 1)" font-size="28.2" fill="#000">NS</text>
<text transform="translate(1413.22 1280) scale(0.9645 1)" font-size="28.2" fill="#000">NS</text>
<text x="964.08" y="1416.17" letter-spacing="2.87" stroke="#000" stroke-width="0.45" font-size="31.6" fill="#000">****</text>
<text x="1067.38" y="1473.47" letter-spacing="2.87" stroke="#000" stroke-width="0.45" font-size="31.6" fill="#000">****</text>
<text x="1111.98" y="1447.87" letter-spacing="2.87" stroke="#000" stroke-width="0.45" font-size="31.6" fill="#000">****</text>
<text x="1160.98" y="1517.67" letter-spacing="2.87" stroke="#000" stroke-width="0.45" font-size="31.6" fill="#000">****</text>
<text x="1206.08" y="1491.87" letter-spacing="2.87" stroke="#000" stroke-width="0.45" font-size="31.6" fill="#000">****</text>
<text x="1253.28" y="1523.37" letter-spacing="2.87" stroke="#000" stroke-width="0.45" font-size="31.6" fill="#000">****</text>
<text x="1304.38" y="1497.27" letter-spacing="2.87" stroke="#000" stroke-width="0.45" font-size="31.6" fill="#000">****</text>
<text x="1355.08" y="1465.77" letter-spacing="2.87" stroke="#000" stroke-width="0.45" font-size="31.6" fill="#000">****</text>
<text x="1455.28" y="1521.57" letter-spacing="2.87" stroke="#000" stroke-width="0.45" font-size="31.6" fill="#000">****</text>
<text transform="translate(0.19 20.6) scale(0.8976 1)" font-size="39.5" fill="#000" font-weight="bold" stroke="#000" stroke-width="1.3" stroke-linejoin="round">a</text>
<text transform="translate(-1.31 421.1) scale(1.0848 1)" font-size="38.5" fill="#000" font-weight="bold" stroke="#000" stroke-width="1.3" stroke-linejoin="round">b</text>
<text transform="translate(-0.12 1103.4) scale(1.0973 1)" font-size="37" fill="#000" font-weight="bold" stroke="#000" stroke-width="1.3" stroke-linejoin="round">c</text>
</g>
</svg>
</body>
</html>
